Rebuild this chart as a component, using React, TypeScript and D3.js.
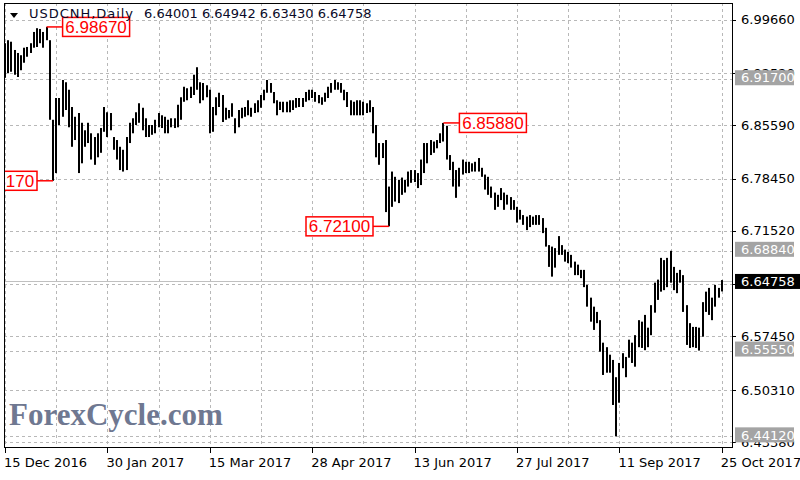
import React from 'react';
import * as d3 from 'd3';

// daily USDCNH bars, 15 Dec 2016 .. 25 Oct 2017 (one per weekday)
const highs = [
  6.965, 6.969, 6.967, 6.956, 6.952, 6.949, 6.959, 6.960, 6.965, 6.980, 6.985, 6.984, 6.980, 6.9867,
  6.969, 6.863, 6.892, 6.892, 6.916, 6.913, 6.903, 6.880, 6.867, 6.872, 6.859, 6.849, 6.859, 6.845,
  6.840, 6.845, 6.852, 6.880, 6.873, 6.872, 6.840, 6.836, 6.827, 6.823, 6.840, 6.859, 6.865, 6.873,
  6.885, 6.879, 6.865, 6.856, 6.856, 6.863, 6.872, 6.869, 6.867, 6.863, 6.865, 6.865, 6.883, 6.893,
  6.907, 6.905, 6.907, 6.923, 6.933, 6.913, 6.912, 6.909, 6.903, 6.880, 6.893, 6.899, 6.896, 6.879,
  6.876, 6.885, 6.865, 6.876, 6.879, 6.880, 6.889, 6.879, 6.885, 6.889, 6.896, 6.903, 6.916, 6.912,
  6.900, 6.889, 6.887, 6.887, 6.887, 6.889, 6.889, 6.892, 6.892, 6.892, 6.900, 6.903, 6.903, 6.900,
  6.896, 6.893, 6.899, 6.907, 6.912, 6.916, 6.913, 6.912, 6.903, 6.900, 6.889, 6.887, 6.889, 6.889,
  6.887, 6.885, 6.889, 6.880, 6.856, 6.832, 6.832, 6.836, 6.774, 6.794, 6.787, 6.783, 6.786, 6.783,
  6.794, 6.796, 6.796, 6.792, 6.810, 6.832, 6.832, 6.836, 6.834, 6.836, 6.845, 6.8588, 6.855, 6.816,
  6.807, 6.796, 6.799, 6.810, 6.807, 6.807, 6.805, 6.807, 6.812, 6.799, 6.790, 6.787, 6.774, 6.766,
  6.763, 6.772, 6.766, 6.763, 6.760, 6.756, 6.747, 6.743, 6.736, 6.734, 6.736, 6.734, 6.736, 6.736,
  6.732, 6.719, 6.696, 6.694, 6.692, 6.708, 6.696, 6.690, 6.687, 6.683, 6.674, 6.670, 6.663, 6.663,
  6.643, 6.626, 6.614, 6.607, 6.596, 6.566, 6.560, 6.550, 6.543, 6.520, 6.539, 6.552, 6.547, 6.570,
  6.566, 6.576, 6.596, 6.594, 6.603, 6.586, 6.616, 6.646, 6.650, 6.679, 6.676, 6.679, 6.6884, 6.667,
  6.659, 6.663, 6.656, 6.616, 6.592, 6.587, 6.587, 6.586, 6.620, 6.634, 6.639, 6.626, 6.643, 6.639,
  6.64942,
];
const lows = [
  6.919, 6.925, 6.927, 6.923, 6.920, 6.929, 6.939, 6.947, 6.952, 6.959, 6.960, 6.965, 6.959, 6.969,
  6.863, 6.7817, 6.792, 6.856, 6.867, 6.876, 6.853, 6.827, 6.836, 6.792, 6.805, 6.827, 6.832, 6.810,
  6.803, 6.813, 6.819, 6.847, 6.840, 6.849, 6.823, 6.810, 6.796, 6.794, 6.796, 6.832, 6.845, 6.856,
  6.859, 6.849, 6.840, 6.840, 6.843, 6.845, 6.853, 6.852, 6.845, 6.845, 6.853, 6.852, 6.853, 6.863,
  6.887, 6.889, 6.892, 6.896, 6.903, 6.885, 6.889, 6.893, 6.845, 6.847, 6.869, 6.880, 6.860, 6.863,
  6.865, 6.867, 6.845, 6.853, 6.865, 6.867, 6.869, 6.867, 6.872, 6.873, 6.879, 6.889, 6.899, 6.899,
  6.885, 6.869, 6.876, 6.873, 6.873, 6.873, 6.876, 6.879, 6.880, 6.880, 6.887, 6.889, 6.892, 6.887,
  6.885, 6.883, 6.887, 6.892, 6.899, 6.903, 6.903, 6.899, 6.889, 6.880, 6.869, 6.869, 6.869, 6.869,
  6.869, 6.872, 6.873, 6.845, 6.813, 6.803, 6.812, 6.740, 6.721, 6.747, 6.754, 6.752, 6.763, 6.766,
  6.774, 6.779, 6.780, 6.772, 6.776, 6.792, 6.805, 6.816, 6.819, 6.825, 6.832, 6.834, 6.810, 6.796,
  6.774, 6.759, 6.774, 6.790, 6.792, 6.792, 6.794, 6.794, 6.794, 6.787, 6.770, 6.763, 6.759, 6.743,
  6.747, 6.756, 6.743, 6.750, 6.743, 6.743, 6.726, 6.730, 6.723, 6.716, 6.720, 6.723, 6.723, 6.723,
  6.712, 6.694, 6.667, 6.654, 6.666, 6.683, 6.683, 6.674, 6.672, 6.666, 6.656, 6.656, 6.652, 6.640,
  6.614, 6.594, 6.583, 6.592, 6.554, 6.523, 6.526, 6.526, 6.483, 6.4412, 6.486, 6.532, 6.520, 6.546,
  6.539, 6.534, 6.560, 6.559, 6.556, 6.560, 6.576, 6.606, 6.623, 6.634, 6.636, 6.640, 6.646, 6.636,
  6.632, 6.646, 6.607, 6.563, 6.559, 6.560, 6.559, 6.5555, 6.574, 6.607, 6.603, 6.596, 6.614, 6.626,
  6.6343,
];

const dateLabels = ['15 Dec 2016', '30 Jan 2017', '15 Mar 2017', '28 Apr 2017', '13 Jun 2017', '27 Jul 2017', '11 Sep 2017', '25 Oct 2017'];
const dateTickIdx = [0, 32, 64, 96, 128, 160, 192, 224];
const gridIdx = [0, 16, 32, 48, 64, 80, 96, 112, 128, 144, 160, 176, 192, 208, 224];
const priceTicks = [6.9966, 6.9252, 6.8559, 6.7845, 6.7152, 6.6438, 6.5745, 6.5031, 6.4338];
const levelLines = [6.917, 6.6884, 6.5555, 6.4412];
const lastBar = { open: 6.64001, high: 6.64942, low: 6.6343, close: 6.64758 };
const marks = [
  { idx: 13, price: 6.9867, side: 'right' },
  { idx: 15, price: 6.7817, side: 'left' },
  { idx: 120, price: 6.721, side: 'left' },
  { idx: 137, price: 6.8588, side: 'right' },
];

const AXIS_FONT = "'DejaVu Sans', Verdana, sans-serif";

export default function App() {
  const left = 4, right = 732, top = 3, bottom = 447;
  const x = d3.scaleLinear().domain([0, 224]).range([5, 721.8]);
  const y = d3.scaleLinear().domain([6.4338, 6.9966]).range([441.9, 19.5]);
  const crisp = (v: number) => Math.round(v) + 0.5;
  const fmt = (v: number) => v.toFixed(5);

  return (
    <svg width={800} height={480} style={{ position: 'absolute', left: 0, top: 0, background: '#fff' }}>
      <defs>
        <clipPath id="plot">
          <rect x={left} y={top} width={right - left} height={bottom - top} />
        </clipPath>
      </defs>

      {/* grid */}
      <g stroke="#b8b8b8" strokeDasharray="3,3" strokeWidth={1}>
        {priceTicks.map(v => (
          <line key={'h' + v} x1={left} x2={right} y1={crisp(y(v))} y2={crisp(y(v))} />
        ))}
        {gridIdx.map(i => (
          <line key={'v' + i} x1={crisp(x(i))} x2={crisp(x(i))} y1={top} y2={bottom} />
        ))}
        {levelLines.map(v => (
          <line key={'l' + v} x1={left} x2={right} y1={crisp(y(v))} y2={crisp(y(v))} />
        ))}
      </g>

      {/* bid line */}
      <line x1={left} x2={right} y1={crisp(y(lastBar.close))} y2={crisp(y(lastBar.close))} stroke="#c0c0c0" />

      <g clipPath="url(#plot)">
        {highs.map((h, i) => {
          const y0 = y(h), y1 = y(lows[i]);
          return <rect key={i} x={Math.round(x(i)) - 1} y={y0} width={2} height={Math.max(1, y1 - y0)} fill="#000" />;
        })}

        {marks.map(m => {
          const bx = x(m.idx), by = y(m.price);
          const off = 16, bw = 67, bh = 19;
          const boxX = m.side === 'right' ? bx + off : bx - off - bw;
          const lineEnd = m.side === 'right' ? boxX : boxX + bw;
          return (
            <g key={m.idx}>
              <line x1={bx} x2={lineEnd} y1={by} y2={by} stroke="#ff0000" strokeWidth={1.5} />
              <rect x={boxX} y={by - bh / 2} width={bw} height={bh} fill="#fff" stroke="#ff0000" strokeWidth={1.5} />
              <text x={boxX + bw / 2} y={by + 6} textAnchor="middle" fill="#ff0000"
                fontFamily="'Liberation Sans', Arial, sans-serif" fontSize={17}>{fmt(m.price)}</text>
            </g>
          );
        })}
      </g>

      {/* watermark */}
      <text x={9} y={425} fontFamily="'Liberation Serif', 'Times New Roman', serif" fontWeight="bold"
        fontSize={31} fill="#6f7891">ForexCycle.com</text>

      {/* frame */}
      <rect x={left + 0.5} y={top + 0.5} width={right - left} height={bottom - top} fill="none" stroke="#000" />

      {/* price axis */}
      <g fontFamily={AXIS_FONT} fontSize={13} fill="#000">
        {priceTicks.map(v => (
          <g key={v}>
            <line x1={right} x2={right + 4} y1={crisp(y(v))} y2={crisp(y(v))} stroke="#000" />
            <text x={741} y={y(v)} dy="0.36em">{fmt(v)}</text>
          </g>
        ))}
        {levelLines.map(v => (
          <g key={'b' + v}>
            <rect x={735} y={y(v) - 9} width={59} height={15} fill="#a4a4a4" />
            <text x={741} y={y(v) - 1.5} dy="0.36em" fill="#fff">{fmt(v)}</text>
          </g>
        ))}
        <rect x={735} y={y(lastBar.close) - 7.5} width={65} height={15} fill="#000" />
        <text x={741} y={y(lastBar.close)} dy="0.36em" fill="#fff">{fmt(lastBar.close)}</text>
      </g>

      {/* time axis */}
      <g fontFamily={AXIS_FONT} fontSize={13} fill="#000">
        {dateTickIdx.map((i, k) => (
          <g key={i}>
            <line x1={crisp(x(i))} x2={crisp(x(i))} y1={bottom} y2={bottom + 6} stroke="#000" />
            <text x={x(i) - 1} y={467}>{dateLabels[k]}</text>
          </g>
        ))}
      </g>

      {/* header */}
      <path d="M10,13 L18,13 L14,18 Z" fill="#000" />
      <g fontFamily={AXIS_FONT} fontSize={13} fill="#0a0a28">
        <text x={29} y={18} textLength={104} lengthAdjust="spacing">USDCNH,Daily</text>
        <text x={144} y={18}>
          {[lastBar.open, lastBar.high, lastBar.low, lastBar.close].map(fmt).join(' ')}
        </text>
      </g>
    </svg>
  );
}
